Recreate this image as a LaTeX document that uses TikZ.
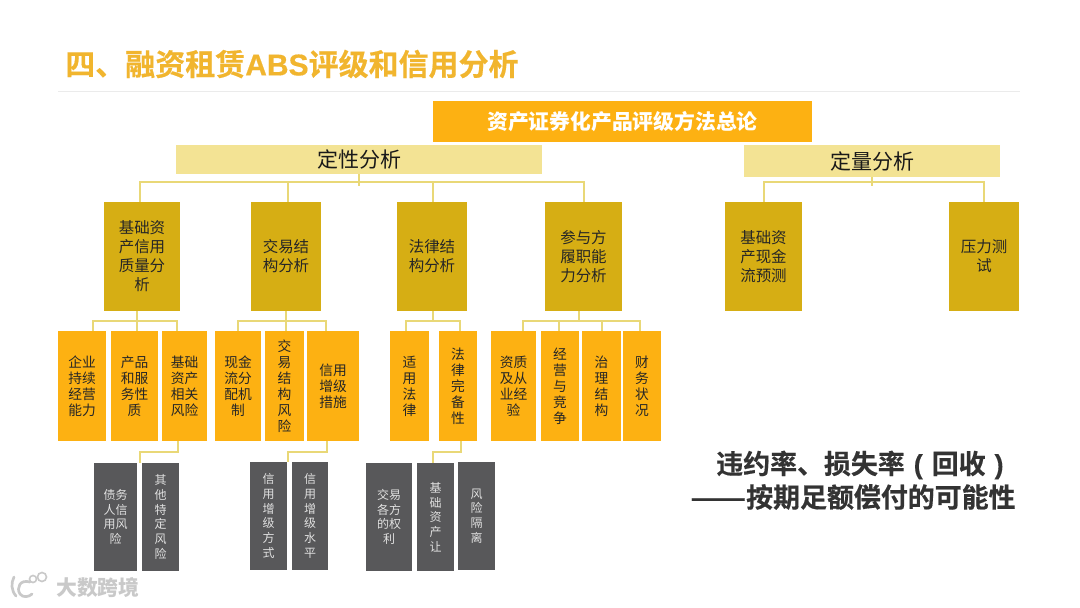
\documentclass[tikz,border=0pt]{standalone}
\usepackage{fontspec}
\setmainfont{Noto Sans CJK SC}
\newfontfamily\latinbold{Liberation Sans}[BoldFont={Liberation Sans Bold}]
\newfontfamily\heavycjk[FakeBold=0.5]{Noto Sans CJK SC Bold}
\newfontfamily\heavylatin[FakeBold=0.5]{Liberation Sans Bold}
\definecolor{orangebox}{HTML}{FDB112}
\definecolor{goldbox}{HTML}{D6AE14}
\definecolor{palebox}{HTML}{F3E394}
\definecolor{greybox}{HTML}{58585A}
\definecolor{linkcol}{HTML}{E9D877}
\definecolor{titlecol}{HTML}{F1B52E}
\definecolor{marklight}{HTML}{C9C9C9}
\tikzset{
 x=0.75pt,y=-0.75pt,
 pxbox/.style={inner sep=0pt,outer sep=0pt,align=center},
 link/.style={draw=linkcol,line width=1.5pt,line join=miter},
 topbox/.style={pxbox,fill=orangebox,text=white,font=\fontsize{15.6pt}{19pt}\selectfont\bfseries},
 headbox/.style={pxbox,fill=palebox,text=black!90,font=\fontsize{15.75pt}{19pt}\selectfont},
 goldnode/.style={pxbox,fill=goldbox,text=black!85,font=\fontsize{11.6pt}{14.3pt}\selectfont},
 orangenode/.style={pxbox,fill=orangebox,text=black!85,font=\fontsize{10.3pt}{12pt}\selectfont},
 greynode/.style={pxbox,fill=greybox,text=white!88!black,font=\fontsize{9pt}{11pt}\selectfont},
 notetext/.style={anchor=west,inner sep=0pt,text=black!80,font=\fontsize{20.2pt}{24pt}\selectfont\heavycjk},
 marktrace/.style={draw=marklight,line width=2pt,line cap=round},
}
% #1 name, #2 left, #3 top, #4 right, #5 bottom, #6 style, #7 text
\newcommand{\pbox}[7]{%
 \node[#6,minimum width={(#4-#2)*0.75pt},minimum height={(#5-#3)*0.75pt},anchor=center] (#1) at ({(#2+#4)/2},{(#3+#5)/2}) {#7};}
\newcommand{\parenbox}[1]{\makebox[1em]{\heavylatin #1}}
\begin{document}
\begin{tikzpicture}
\useasboundingbox (0,0) rectangle (1080,607);
\fill[white] (0,0) rectangle (1080,607);
\node[anchor=west,inner sep=0pt,text=titlecol,font=\fontsize{22.5pt}{26pt}\selectfont\heavycjk] (title) at (65,64) {四、融资租赁{\heavylatin ABS}评级和信用分析};
\coordinate (ruleL) at (58,91);
\coordinate (ruleR) at (1020,91);
\draw[black!8,line width=0.6pt] (ruleL) -- (ruleR);
\pbox{top}{433}{101}{812}{142}{topbox}{资产证券化产品评级方法总论}
\pbox{qual}{176}{145}{542}{174}{headbox}{定性分析}
\pbox{quant}{744}{145}{1000}{177}{headbox}{定量分析}
% level 2
\pbox{aa}{104}{202}{180}{311}{goldnode}{基础资\\产信用\\质量分\\析}
\pbox{bb}{251}{202}{321}{311}{goldnode}{交易结\\构分析}
\pbox{cc}{397}{202}{467}{311}{goldnode}{法律结\\构分析}
\pbox{dd}{545}{202}{622}{311}{goldnode}{参与方\\履职能\\力分析}
\pbox{ee}{725}{202}{802}{311}{goldnode}{基础资\\产现金\\流预测}
\pbox{ff}{949}{202}{1019}{311}{goldnode}{压力测\\试}
% level 3
\pbox{a1}{58}{331}{106}{441}{orangenode}{企业\\持续\\经营\\能力}
\pbox{a2}{111}{331}{158}{441}{orangenode}{产品\\和服\\务性\\质}
\pbox{a3}{162}{331}{207}{441}{orangenode}{基础\\资产\\相关\\风险}
\pbox{b1}{215}{331}{261}{441}{orangenode}{现金\\流分\\配机\\制}
\pbox{b2}{265}{331}{304}{441}{orangenode}{交\\易\\结\\构\\风\\险}
\pbox{b3}{307}{331}{359}{441}{orangenode}{信用\\增级\\措施}
\pbox{c1}{390}{331}{429}{441}{orangenode}{适\\用\\法\\律}
\pbox{c2}{439}{331}{477}{441}{orangenode}{法\\律\\完\\备\\性}
\pbox{d1}{491}{331}{536}{441}{orangenode}{资质\\及从\\业经\\验}
\pbox{d2}{541}{331}{579}{441}{orangenode}{经\\营\\与\\竞\\争}
\pbox{d3}{582}{331}{621}{441}{orangenode}{治\\理\\结\\构}
\pbox{d4}{623}{331}{661}{441}{orangenode}{财\\务\\状\\况}
% level 4
\pbox{g1}{94}{463}{137}{571}{greynode}{债务\\人信\\用风\\险}
\pbox{g2}{142}{463}{179}{571}{greynode}{其\\他\\特\\定\\风\\险}
\pbox{g3}{250}{462}{287}{570}{greynode}{信\\用\\增\\级\\方\\式}
\pbox{g4}{292}{462}{328}{570}{greynode}{信\\用\\增\\级\\水\\平}
\pbox{g5}{366}{463}{412}{571}{greynode}{交易\\各方\\的权\\利}
\pbox{g6}{417}{463}{454}{571}{greynode}{基\\础\\资\\产\\让}
\pbox{g7}{458}{462}{495}{570}{greynode}{风\\险\\隔\\离}
% connectors: level 1 to 2
\foreach \c/\dx in {aa/-1.5,bb/1.5,cc/1,dd/0}
 \draw[link] (qual.south) -- ++(0,8) -| ([xshift=\dx pt]\c.north);
\draw[link] (qual.south) -- ++(0,12);
\foreach \c/\dx in {ee/0,ff/0}
 \draw[link] (quant.south) -- ++(0,5) -| ([xshift=\dx pt]\c.north);
\draw[link] (quant.south) -- ++(0,9);
% level 2 to 3: parent/child/parent shift/child shift (pt)
\foreach \p/\c/\sx/\dx in {aa/a1/-3.75/8.25,aa/a2/-3.75/1.9,aa/a3/-3.75/-5.6,
 bb/b1/0/0,bb/b2/0/1.1,bb/b3/0/-5.25,
 cc/c1/0.75/-2.6,cc/c2/0.75/1.5,
 dd/d1/-3.4/7.1,dd/d2/-3.4/-0.75,dd/d3/-3.4/0,dd/d4/-3.4/-1.5}
 \draw[link] ([xshift=\sx pt]\p.south) -- ++(0,10) -| ([xshift=\dx pt]\c.north);
% level 3 to 4
\foreach \p/\c/\sx/\dx in {a3/g1/-4.9/18.4,b3/g3/-4.5/14.6,c2/g6/2.25/-1.9}
 \draw[link] ([xshift=\sx pt]\p.south) -- ++(0,11) -| ([xshift=\dx pt]\c.north);
% note
\node[notetext] (note1) at (716,465) {违约率、损失率\parenbox{(}回收\parenbox{)}};
\node[notetext] (note2) at (690,497) {\scalebox{1.22}[1]{——}按期足额偿付的可能性};
% watermark
\node[anchor=west,inner sep=0pt,text=marklight,font=\fontsize{15.6pt}{18pt}\selectfont\bfseries] (wm) at (56,588) {大数跨境};
\draw[marktrace] (14,577) .. controls (11,583) and (11,590) .. (16,596);
\draw[marktrace] (30,582) .. controls (20,579) and (16,588) .. (20,594) .. controls (23,598) and (29,597) .. (32,594);
\draw[marktrace,line width=1.2pt] (33,579) circle[radius=3.5];
\draw[marktrace,line width=1.2pt] (42,577) circle[radius=4.5];
\end{tikzpicture}
\end{document}
